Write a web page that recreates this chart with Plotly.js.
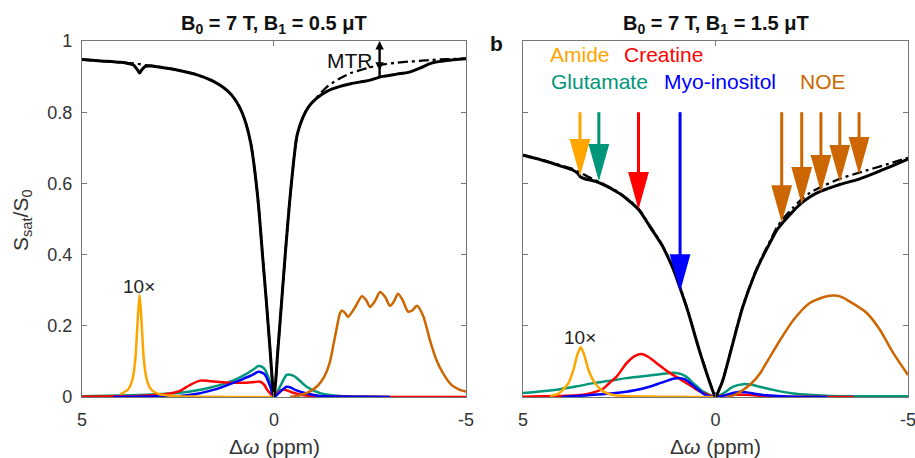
<!DOCTYPE html>
<html>
<head>
<meta charset="utf-8">
<script src="https://cdn.plot.ly/plotly-3.0.1.min.js"></script>
<style>html,body{margin:0;padding:0;background:#fff;}#chart{width:915px;height:458px;}</style>
</head>
<body>
<div id="chart"></div>
<script>
// ---------- Panel a: B0 = 7 T, B1 = 0.5 uT ----------
const zA_x = [5,4.5,4,3.8,3.65,3.55,3.5,3.45,3.35,3.2,3,2.5,2,1.6,1.3,1.1,0.9,0.75,0.6,0.5,0.4,0.3,0.2,0.1,0,-0.1,-0.2,-0.3,-0.4,-0.5,-0.6,-0.75,-0.9,-1.1,-1.4,-1.7,-2,-2.3,-2.5,-2.8,-3.2,-3.5,-3.8,-4.1,-4.5,-5];
const zA_solid = [0.948,0.944,0.940,0.937,0.932,0.918,0.910,0.918,0.929,0.930,0.927,0.918,0.905,0.888,0.868,0.848,0.815,0.775,0.71,0.635,0.535,0.40,0.27,0.13,0.0,0.13,0.27,0.41,0.54,0.65,0.735,0.785,0.815,0.838,0.860,0.872,0.880,0.886,0.890,0.900,0.907,0.912,0.924,0.938,0.945,0.950];
const zA_ref = [0.948,0.944,0.940,0.938,0.937,0.936,0.935,0.934,0.932,0.931,0.928,0.918,0.905,0.888,0.868,0.848,0.815,0.775,0.71,0.635,0.535,0.40,0.27,0.13,0.0,0.13,0.27,0.41,0.54,0.65,0.735,0.785,0.815,0.840,0.873,0.894,0.910,0.920,0.926,0.934,0.939,0.942,0.944,0.947,0.949,0.951];

const amideA_x = [4,3.8,3.7,3.65,3.6,3.55,3.5,3.45,3.4,3.35,3.3,3.2,3,2.5,2,1,0.3,0];
const amideA_y = [0.008,0.021,0.044,0.07,0.12,0.213,0.287,0.213,0.12,0.07,0.044,0.021,0.008,0.002,0.001,0,0,0];
const creA_x = [5,4,3.5,3,2.7,2.45,2.2,1.93,1.7,1.49,1.15,0.9,0.71,0.5,0.36,0.25,0.19,0.1,0,-0.1,-0.24,-0.35,-0.5,-0.76,-1.2,-2,-3,-5];
const creA_y = [0.001,0.002,0.003,0.006,0.01,0.017,0.033,0.046,0.045,0.043,0.04,0.04,0.04,0.042,0.043,0.034,0.022,0.01,0,0.012,0.021,0.018,0.012,0.005,0.002,0.001,0,0];
const gluA_x = [5,4,3,2.45,2,1.58,1.3,0.98,0.8,0.63,0.5,0.41,0.3,0.23,0.1,0,-0.16,-0.33,-0.45,-0.55,-0.7,-0.85,-1.2,-1.72,-2.5,-3];
const gluA_y = [0.002,0.004,0.008,0.012,0.019,0.029,0.037,0.05,0.06,0.071,0.08,0.087,0.084,0.076,0.04,0,0.03,0.062,0.062,0.057,0.043,0.029,0.011,0.003,0.001,0];
const myoA_x = [4.19,3.5,3,2.45,2,1.58,1.3,0.98,0.8,0.63,0.5,0.41,0.3,0.23,0.1,0,-0.16,-0.33,-0.45,-0.55,-0.85,-1.2,-2,-3.02];
const myoA_y = [0,0.001,0.002,0.003,0.009,0.02,0.03,0.043,0.051,0.059,0.066,0.071,0.068,0.062,0.03,0,0.015,0.029,0.026,0.02,0.01,0.003,0.001,0];
const noeA_x = [-0.42,-0.68,-0.94,-1.15,-1.31,-1.45,-1.59,-1.72,-1.77,-1.85,-1.93,-2.1,-2.29,-2.4,-2.5,-2.63,-2.76,-2.9,-3.02,-3.12,-3.23,-3.35,-3.49,-3.6,-3.72,-3.89,-4.06,-4.23,-4.4,-4.62,-4.84,-5];
const noeA_y = [0,0.005,0.016,0.033,0.057,0.096,0.17,0.236,0.243,0.236,0.225,0.25,0.283,0.272,0.253,0.27,0.295,0.28,0.256,0.268,0.29,0.272,0.24,0.243,0.256,0.226,0.16,0.104,0.067,0.034,0.02,0.015];

// ---------- Panel b: B0 = 7 T, B1 = 1.5 uT ----------
const zB_x = [5,4.5,4,3.7,3.6,3.5,3.4,3.2,3,2.5,2,1.7,1.4,1.1,0.9,0.7,0.5,0.4,0.3,0.2,0.1,0,-0.1,-0.2,-0.4,-0.7,-1,-1.15,-1.4,-1.6,-1.75,-2,-2.24,-2.45,-2.74,-3.23,-3.73,-4.5,-5];
const zB_solid = [0.679,0.665,0.648,0.637,0.630,0.618,0.613,0.608,0.601,0.572,0.527,0.478,0.428,0.360,0.300,0.235,0.160,0.124,0.090,0.057,0.026,0,0.022,0.05,0.13,0.25,0.34,0.377,0.43,0.47,0.49,0.52,0.545,0.562,0.578,0.597,0.612,0.645,0.668];
const zB_ref = [0.680,0.666,0.650,0.640,0.635,0.630,0.624,0.613,0.603,0.574,0.529,0.480,0.430,0.362,0.302,0.237,0.162,0.126,0.092,0.058,0.027,0,0.023,0.052,0.132,0.252,0.343,0.380,0.435,0.477,0.500,0.530,0.556,0.573,0.590,0.613,0.630,0.655,0.672];

const amideB_x = [4.3,4.1,3.95,3.82,3.69,3.6,3.5,3.4,3.3,3.13,2.91,2.57,2.2,1.5,0.5,0];
const amideB_y = [0.003,0.008,0.022,0.039,0.076,0.115,0.14,0.115,0.076,0.039,0.015,0.004,0.002,0.001,0,0];
const creB_x = [5,4.5,4.04,3.6,3.35,3.1,2.91,2.75,2.57,2.4,2.31,2.1,1.92,1.75,1.53,1.35,1.18,0.95,0.75,0.55,0.4,0.2,0,-0.2,-0.5,-0.81,-1.3,-2,-3,-3.6];
const creB_y = [0.001,0.002,0.003,0.005,0.008,0.015,0.024,0.04,0.057,0.082,0.095,0.115,0.121,0.113,0.095,0.08,0.067,0.052,0.039,0.025,0.015,0.006,0,0.004,0.006,0.006,0.003,0.001,0,0];
const gluB_x = [5,4.5,4.04,3.6,3.17,2.74,2.31,1.88,1.44,1.25,1.1,0.95,0.84,0.7,0.58,0.45,0.32,0.15,0,-0.2,-0.46,-0.72,-0.9,-1.07,-1.5,-2.02,-2.45,-3,-4,-5];
const gluB_y = [0.011,0.016,0.022,0.03,0.039,0.046,0.053,0.058,0.064,0.067,0.068,0.066,0.062,0.052,0.039,0.027,0.015,0.006,0,0.01,0.029,0.036,0.035,0.031,0.02,0.01,0.006,0.003,0.002,0.002];
const myoB_x = [4,3.6,3.17,2.74,2.31,2.1,1.88,1.65,1.44,1.25,1.1,0.92,0.8,0.7,0.49,0.27,0.1,0,-0.15,-0.29,-0.45,-0.64,-0.8,-0.98,-1.2,-1.43,-2,-2.9];
const myoB_y = [0,0.003,0.006,0.01,0.015,0.019,0.024,0.031,0.039,0.046,0.051,0.053,0.05,0.043,0.024,0.006,0.001,0,0.002,0.006,0.011,0.015,0.013,0.01,0.006,0.004,0.001,0];
const noeB_x = [-0.29,-0.5,-0.72,-0.95,-1.16,-1.4,-1.68,-2.03,-2.45,-2.89,-3.1,-3.3,-3.49,-3.93,-4.27,-4.62,-5];
const noeB_y = [0,0.006,0.02,0.04,0.067,0.11,0.16,0.217,0.264,0.283,0.285,0.28,0.268,0.236,0.189,0.123,0.062];

// arrows in panel b
const arrowPpm  = [3.52, 3.03, 2.0, 0.92, -1.72, -2.24, -2.74, -3.23, -3.73];
const arrowTip  = [0.62, 0.606, 0.527, 0.296, 0.49, 0.541, 0.575, 0.603, 0.625];
const arrowPool = ['Amide','Glutamate','Creatine','Myo-inositol','NOE','NOE','NOE','NOE','NOE'];

// labels
const poolNames = ['Amide','Creatine','Glutamate','Myo-inositol','NOE'];
const xTickVals = [5,0,-5];
const xTickText = ['5','0','-5'];
const yTickVals = [0,0.2,0.4,0.6,0.8,1];
const yTickText = ['0','0.2','0.4','0.6','0.8','1'];
const mtrPpm = -2.75;
const mtrLevels = [0.9, 0.918, 1.0];

const colors = {'Amide':'#FFA500','Creatine':'#FF0000','Glutamate':'#00967A','Myo-inositol':'#0000FF','NOE':'#CC6600'};
const FONT = 'Liberation Sans, Arial, Helvetica, sans-serif';

function curve(x, y, color, xa, ya) {
  return {x:x, y:y, xaxis:xa, yaxis:ya, type:'scatter', mode:'lines',
          line:{color:color, width:2.5, shape:'spline', smoothing:0.7}, hoverinfo:'skip', showlegend:false};
}
function zline(x, y, xa, ya, dashed) {
  return {x:x, y:y, xaxis:xa, yaxis:ya, type:'scatter', mode:'lines',
          line:{color:'#000', width:dashed?2.3:3, dash:dashed?'10px,4px,3px,4px':'solid', shape:'spline', smoothing:0.7},
          hoverinfo:'skip', showlegend:false};
}

const data = [
  curve(gluA_x, gluA_y, colors['Glutamate'], 'x', 'y'),
  curve(creA_x, creA_y, colors['Creatine'], 'x', 'y'),
  curve(myoA_x, myoA_y, colors['Myo-inositol'], 'x', 'y'),
  curve(amideA_x, amideA_y, colors['Amide'], 'x', 'y'),
  curve(noeA_x, noeA_y, colors['NOE'], 'x', 'y'),
  zline(zA_x, zA_ref, 'x', 'y', true),
  zline(zA_x, zA_solid, 'x', 'y', false),

  curve(gluB_x, gluB_y, colors['Glutamate'], 'x2', 'y2'),
  curve(creB_x, creB_y, colors['Creatine'], 'x2', 'y2'),
  curve(myoB_x, myoB_y, colors['Myo-inositol'], 'x2', 'y2'),
  curve(amideB_x, amideB_y, colors['Amide'], 'x2', 'y2'),
  curve(noeB_x, noeB_y, colors['NOE'], 'x2', 'y2'),
  zline(zB_x, zB_ref, 'x2', 'y2', true),
  zline(zB_x, zB_solid, 'x2', 'y2', false)
];

// arrow shapes (computed from arrow arrays)
const shapes = [];
const headHalfW = 0.27, headLen = 0.105, shaftTop = 0.8;
arrowPpm.forEach((p, i) => {
  const c = colors[arrowPool[i]], t = arrowTip[i];
  shapes.push({type:'line', xref:'x2', yref:'y2', x0:p, x1:p, y0:shaftTop, y1:t+headLen*0.9, line:{color:c, width:3}});
  shapes.push({type:'path', xref:'x2', yref:'y2',
    path:`M ${p-headHalfW},${t+headLen} L ${p+headHalfW},${t+headLen} L ${p},${t} Z`,
    fillcolor:c, line:{width:0}});
});
// MTR double arrow
shapes.push({type:'line', xref:'x', yref:'y', x0:mtrPpm, x1:mtrPpm, y0:mtrLevels[0], y1:mtrLevels[2]-0.01, line:{color:'#000', width:2.4}});
shapes.push({type:'path', xref:'x', yref:'y',
  path:`M ${mtrPpm-0.11},${mtrLevels[2]-0.024} L ${mtrPpm+0.11},${mtrLevels[2]-0.024} L ${mtrPpm},${mtrLevels[2]} Z`, fillcolor:'#000', line:{width:0}});
shapes.push({type:'path', xref:'x', yref:'y',
  path:`M ${mtrPpm-0.11},${mtrLevels[1]+0.022} L ${mtrPpm+0.11},${mtrLevels[1]+0.022} L ${mtrPpm},${mtrLevels[1]} Z`, fillcolor:'#000', line:{width:0}});

const axisCommon = {
  autorange:false, showgrid:false, zeroline:false, showline:true, linecolor:'#777', linewidth:1,
  mirror:'ticks', ticks:'inside', ticklen:5, tickwidth:1, tickcolor:'#777',
  tickfont:{family:FONT, size:18, color:'#333'}, fixedrange:true, ticklabeloverflow:'allow'
};

const annotations = [
  {xref:'paper', yref:'paper', x:0.2995, y:1.045, text:'<b>B<sub>0</sub> = 7 T, B<sub>1</sub> = 0.5 μT</b>', showarrow:false, font:{family:FONT, size:20, color:'#111'}, xanchor:'center', yanchor:'middle'},
  {xref:'paper', yref:'paper', x:0.782, y:1.045, text:'<b>B<sub>0</sub> = 7 T, B<sub>1</sub> = 1.5 μT</b>', showarrow:false, font:{family:FONT, size:20, color:'#111'}, xanchor:'center', yanchor:'middle'},
  {xref:'paper', yref:'paper', x:0.543, y:0.994, text:'<b>b</b>', showarrow:false, font:{family:FONT, size:21, color:'#111'}, xanchor:'center', yanchor:'middle'},
  {xref:'paper', yref:'paper', x:0.2995, y:-0.138, text:'Δ<i>ω</i> (ppm)', showarrow:false, font:{family:FONT, size:21, color:'#333'}, xanchor:'center', yanchor:'middle'},
  {xref:'paper', yref:'paper', x:0.782, y:-0.138, text:'Δ<i>ω</i> (ppm)', showarrow:false, font:{family:FONT, size:21, color:'#333'}, xanchor:'center', yanchor:'middle'},
  {xref:'paper', yref:'paper', x:0.024, y:0.497, text:'S<sub>sat</sub>/S<sub>0</sub>', textangle:-90, showarrow:false, font:{family:FONT, size:21, color:'#333'}, xanchor:'center', yanchor:'middle'},
  {xref:'x', yref:'y', x:-1.97, y:0.944, text:'MTR', showarrow:false, font:{family:FONT, size:21, color:'#111'}, xanchor:'center', yanchor:'middle'},
  {xref:'x', yref:'y', x:3.52, y:0.31, text:'10×', showarrow:false, font:{family:FONT, size:19, color:'#222'}, xanchor:'center', yanchor:'middle'},
  {xref:'x2', yref:'y2', x:3.52, y:0.166, text:'10×', showarrow:false, font:{family:FONT, size:19, color:'#222'}, xanchor:'center', yanchor:'middle'},
  {xref:'x2', yref:'y2', x:4.35, y:0.963, text:poolNames[0], showarrow:false, font:{family:FONT, size:21, color:colors['Amide']}, xanchor:'left', yanchor:'middle'},
  {xref:'x2', yref:'y2', x:2.43, y:0.963, text:poolNames[1], showarrow:false, font:{family:FONT, size:21, color:colors['Creatine']}, xanchor:'left', yanchor:'middle'},
  {xref:'x2', yref:'y2', x:4.33, y:0.885, text:poolNames[2], showarrow:false, font:{family:FONT, size:21, color:colors['Glutamate']}, xanchor:'left', yanchor:'middle'},
  {xref:'x2', yref:'y2', x:1.39, y:0.885, text:poolNames[3], showarrow:false, font:{family:FONT, size:21, color:colors['Myo-inositol']}, xanchor:'left', yanchor:'middle'},
  {xref:'x2', yref:'y2', x:-2.14, y:0.885, text:poolNames[4], showarrow:false, font:{family:FONT, size:21, color:colors['NOE']}, xanchor:'left', yanchor:'middle'}
];

const layout = {
  width:915, height:458,
  margin:{l:0, r:0, t:41, b:61, pad:0},
  paper_bgcolor:'#fff', plot_bgcolor:'#fff',
  showlegend:false,
  xaxis: Object.assign({}, axisCommon, {domain:[0.0896,0.5093], range:[5,-5], tickvals:xTickVals, ticktext:xTickText, ticklabelstandoff:6, anchor:'y'}),
  xaxis2: Object.assign({}, axisCommon, {domain:[0.5716,0.9923], range:[5,-5], tickvals:xTickVals, ticktext:xTickText, ticklabelstandoff:6, anchor:'y2'}),
  yaxis: Object.assign({}, axisCommon, {domain:[0,1], range:[0,1], tickvals:yTickVals, ticktext:yTickText, anchor:'x', ticklabelstandoff:5}),
  yaxis2: Object.assign({}, axisCommon, {domain:[0,1], range:[0,1], tickvals:yTickVals, ticktext:yTickText, showticklabels:false, anchor:'x2'}),
  shapes:shapes,
  annotations:annotations
};

Plotly.newPlot('chart', data, layout, {displayModeBar:false, staticPlot:true});
</script>
</body>
</html>
